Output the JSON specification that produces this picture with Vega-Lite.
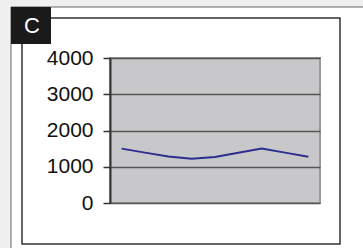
{
  "$schema": "https://vega.github.io/schema/vega-lite/v6.json",
  "width": 210,
  "height": 145,
  "autosize": "none",
  "padding": {"left": 110, "top": 58, "right": 43, "bottom": 45},
  "background": "#f0f0f0",
  "config": {
    "view": {"stroke": null},
    "font": "Liberation Sans",
    "axisY": {
      "values": [0, 1000, 2000, 3000, 4000],
      "format": "d",
      "title": null,
      "grid": true,
      "gridColor": "#555555",
      "gridWidth": 1.5,
      "gridOpacity": 1,
      "domainColor": "#333333",
      "domainWidth": 2,
      "tickColor": "#333333",
      "tickWidth": 1.5,
      "tickSize": 7,
      "labelPadding": 10,
      "labelFontSize": 21,
      "labelColor": "#111111",
      "labelFont": "Liberation Sans"
    }
  },
  "layer": [
    {
      "data": {"values": [{"part": "page"}]},
      "mark": {"type": "rect", "fill": "#ffffff", "stroke": "#666666", "strokeWidth": 1, "clip": false},
      "encoding": {
        "x": {"datum": -3.743, "type": "quantitative", "scale": {"domain": [0.5, 9.5], "nice": false, "zero": false}, "axis": null},
        "x2": {"datum": 11.643},
        "y": {"datum": 5407, "type": "quantitative", "scale": {"domain": [0, 4000], "nice": false}, "axis": {"title": null, "zindex": 1}},
        "y2": {"datum": -1434}
      }
    },
    {
      "data": {"values": [{"part": "frame"}]},
      "mark": {"type": "rect", "fill": "#ffffff", "stroke": "#333333", "strokeWidth": 1.5, "clip": false},
      "encoding": {
        "x": {"datum": -3.271, "type": "quantitative", "scale": {"domain": [0.5, 9.5], "nice": false, "zero": false}, "axis": null},
        "x2": {"datum": 10.357},
        "y": {"datum": 5103, "type": "quantitative", "scale": {"domain": [0, 4000], "nice": false}, "axis": {"title": null, "zindex": 1}},
        "y2": {"datum": -1131}
      }
    },
    {
      "data": {"values": [{"part": "badge"}]},
      "mark": {"type": "rect", "fill": "#1a1a1a", "clip": false},
      "encoding": {
        "x": {"datum": -3.743, "type": "quantitative", "scale": {"domain": [0.5, 9.5], "nice": false, "zero": false}, "axis": null},
        "x2": {"datum": -2.029},
        "y": {"datum": 5407, "type": "quantitative", "scale": {"domain": [0, 4000], "nice": false}, "axis": {"title": null, "zindex": 1}},
        "y2": {"datum": 4386}
      }
    },
    {
      "data": {"values": [{"label": "C"}]},
      "mark": {"type": "text", "color": "#ffffff", "fontSize": 22, "align": "center", "baseline": "alphabetic", "clip": false},
      "encoding": {
        "text": {"field": "label", "type": "nominal"},
        "x": {"datum": -2.843, "type": "quantitative", "scale": {"domain": [0.5, 9.5], "nice": false, "zero": false}, "axis": null},
        "y": {"datum": 4690, "type": "quantitative", "scale": {"domain": [0, 4000], "nice": false}, "axis": {"title": null, "zindex": 1}}
      }
    },
    {
      "data": {"values": [{"part": "plot"}]},
      "mark": {"type": "rect", "fill": "#c8c8ca", "stroke": "#999999", "strokeWidth": 2, "clip": false},
      "encoding": {
        "x": {"datum": 0.5, "type": "quantitative", "scale": {"domain": [0.5, 9.5], "nice": false, "zero": false}, "axis": null},
        "x2": {"datum": 9.5},
        "y": {"datum": 4000, "type": "quantitative", "scale": {"domain": [0, 4000], "nice": false}, "axis": {"title": null, "zindex": 1}},
        "y2": {"datum": 0}
      }
    },
    {
      "data": {"values": [
        {"i": 1, "v": 1500},
        {"i": 2, "v": 1390},
        {"i": 3, "v": 1280},
        {"i": 4, "v": 1220},
        {"i": 5, "v": 1270},
        {"i": 6, "v": 1385},
        {"i": 7, "v": 1500},
        {"i": 8, "v": 1390},
        {"i": 9, "v": 1275}
      ]},
      "mark": {"type": "line", "color": "#2b2e8f", "strokeWidth": 2},
      "encoding": {
        "x": {"field": "i", "type": "quantitative", "scale": {"domain": [0.5, 9.5], "nice": false, "zero": false}, "axis": null},
        "y": {"field": "v", "type": "quantitative", "scale": {"domain": [0, 4000], "nice": false}, "axis": {"title": null, "zindex": 1}}
      }
    }
  ]
}
